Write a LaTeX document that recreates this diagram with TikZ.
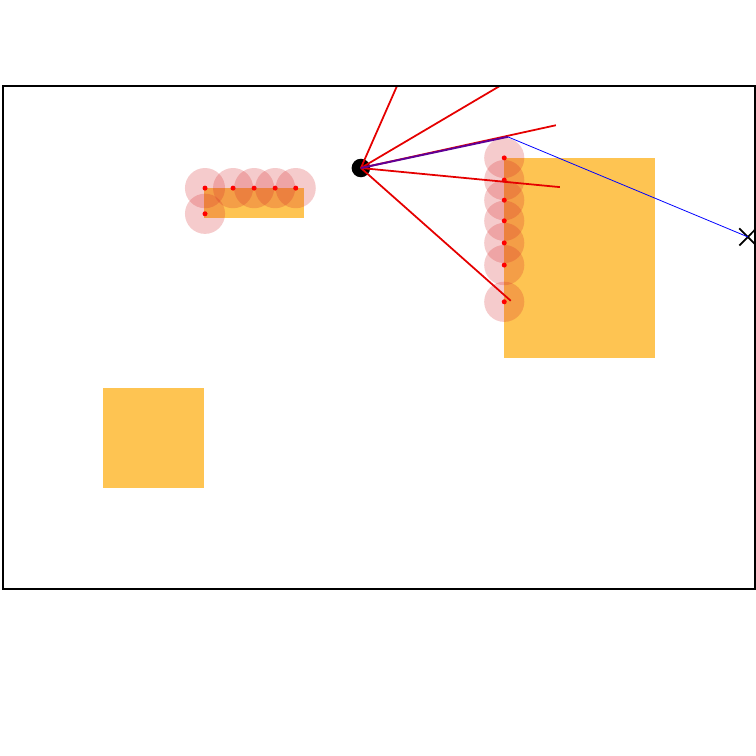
\documentclass[tikz,border=0pt]{standalone}
\usepackage{tikz}

\definecolor{obstacle}{RGB}{254,196,82}
\definecolor{hitred}{RGB}{214,39,40}
\definecolor{pathcol}{RGB}{95,0,150}
\tikzset{
  beam/.style={red!90!black, line width=1pt},
  hit/.style={fill=hitred, fill opacity=0.24},
}

\begin{document}
\begin{tikzpicture}[y=1.0035cm]
    \useasboundingbox (-0.06,-3.32) rectangle (15.02,11.71);
    % Draw the obstacles
    \fill[obstacle] (2,2) rectangle (4,4);
    \fill[obstacle] (10,4.6) rectangle (13,8.57);
    \fill[obstacle] (4,7.38) rectangle (6,7.97);
    % Draw the detected points
    \foreach \x/\y in {4.03/7.97, 4.59/7.97, 5.01/7.97, 5.43/7.97, 5.84/7.97, 4.03/7.46,
                       10/8.57, 10/8.13, 10/7.73, 10/7.32, 10/6.88, 10/6.44, 10/5.71} {
      \fill[hit] (\x,\y) circle (0.4);
      \fill[red] (\x,\y) circle (0.05);
    }
    % Draw the robot and the goal
    \node (robot) [circle, fill=black, inner sep=0pt, minimum size=0.37cm] at (7.14,8.37) {};
    \coordinate (wp) at (10.07,8.99);
    \node (goal) [inner sep=0pt] at (14.86,7.0) {};
    \draw[black, line width=1pt] (goal) ++(-0.17,-0.17) -- ++(0.34,0.34)
                                 (goal) ++(-0.17,0.17) -- ++(0.34,-0.34);
    % Draw the beams
    \foreach \ex/\ey [count=\i] in {7.86/10, 9.91/10, 11.03/9.22, 11.11/7.99, 10.13/5.73} {
      \coordinate (b\i) at (\ex,\ey);
      \draw[beam] (robot.center) -- (b\i);
    }
    % Draw the path
    \draw[pathcol, line width=1.1pt] (robot.center) -- (wp);
    \draw[blue, line width=0.45pt] (wp) -- (goal.center);
    % Draw the frame
    \draw[black, line width=1.4pt] (0,0) rectangle (15,10);
\end{tikzpicture}
\end{document}
